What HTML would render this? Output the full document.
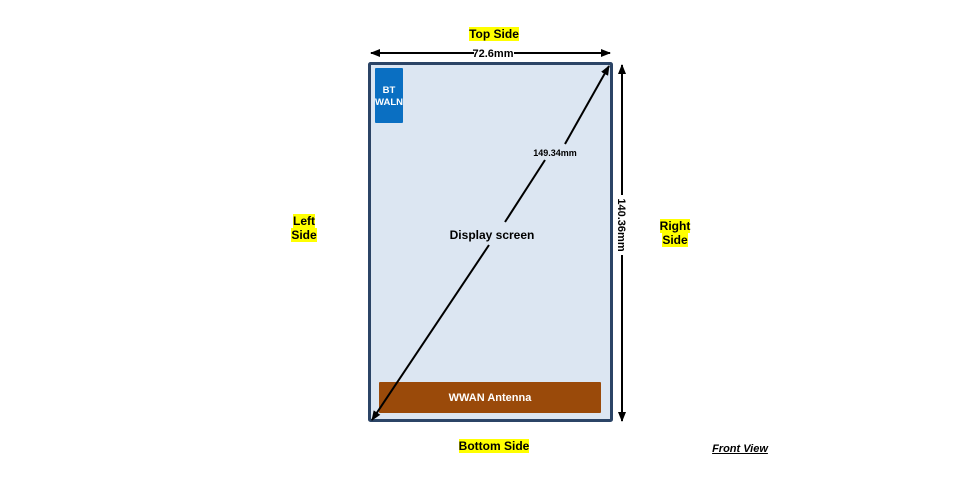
<!DOCTYPE html>
<html><head><style>
body{margin:0;width:980px;height:482px;background:#fff;position:relative;overflow:hidden;font-family:"Liberation Sans",Arial,sans-serif;font-weight:bold;}
.l{position:absolute;font-size:12px;line-height:14px;color:#000;text-align:center;}
.hl{background:#ffff00;}
</style></head><body>
<svg width="980" height="482" style="position:absolute;left:0;top:0">
<defs>
<marker id="a" markerWidth="10" markerHeight="8" refX="9" refY="4" orient="auto" markerUnits="userSpaceOnUse"><path d="M0,0 L10,4 L0,8 Z" fill="#000"/></marker>
</defs>
<rect x="369.5" y="63.5" width="242" height="357" fill="#dce6f2" stroke="#2b4466" stroke-width="3" rx="1"/>
<rect x="375" y="68" width="28" height="55" fill="#0a6fc2" rx="1"/>
<rect x="379" y="382" width="222" height="31" fill="#9a4a0a" rx="1"/>
<line x1="474" y1="53" x2="371" y2="53" stroke="#000" stroke-width="2" marker-end="url(#a)"/>
<line x1="514" y1="53" x2="610" y2="53" stroke="#000" stroke-width="2" marker-end="url(#a)"/>
<line x1="622" y1="195" x2="622" y2="65" stroke="#000" stroke-width="2" marker-end="url(#a)"/>
<line x1="622" y1="255" x2="622" y2="421" stroke="#000" stroke-width="2" marker-end="url(#a)"/>
<line x1="489" y1="245" x2="372" y2="420" stroke="#000" stroke-width="2" marker-end="url(#a)"/>
<line x1="505" y1="222" x2="545" y2="160" stroke="#000" stroke-width="2"/>
<line x1="565" y1="144" x2="609" y2="66" stroke="#000" stroke-width="2" marker-end="url(#a)"/>
<text x="493" y="57" font-size="11" text-anchor="middle" font-weight="bold" font-family="Liberation Sans">72.6mm</text>
<text x="555" y="156" font-size="9" text-anchor="middle" font-weight="bold" font-family="Liberation Sans">149.34mm</text>
<text transform="translate(618,225) rotate(90)" font-size="11" text-anchor="middle" font-weight="bold" font-family="Liberation Sans">140.36mm</text>
<text x="389" y="93" font-size="9.5" fill="#fff" text-anchor="middle" font-weight="bold" font-family="Liberation Sans">BT</text>
<text x="389" y="105" font-size="9.5" fill="#fff" text-anchor="middle" font-weight="bold" font-family="Liberation Sans">WALN</text>
<text x="490" y="401" font-size="11" fill="#fff" text-anchor="middle" font-weight="bold" font-family="Liberation Sans">WWAN Antenna</text>
<text x="492" y="239" font-size="12" text-anchor="middle" font-weight="bold" font-family="Liberation Sans">Display screen</text>
</svg>
<div class="l" style="left:444px;top:27px;width:100px"><span class="hl">Top Side</span></div>
<div class="l" style="left:444px;top:439px;width:100px"><span class="hl">Bottom Side</span></div>
<div class="l" style="left:274px;top:214px;width:60px"><span class="hl">Left</span><br><span class="hl">Side</span></div>
<div class="l" style="left:645px;top:219px;width:60px"><span class="hl">Right</span><br><span class="hl">Side</span></div>
<div class="l" style="left:700px;top:442px;width:80px;font-style:italic;text-decoration:underline;font-size:11px">Front View</div>
</body></html>
